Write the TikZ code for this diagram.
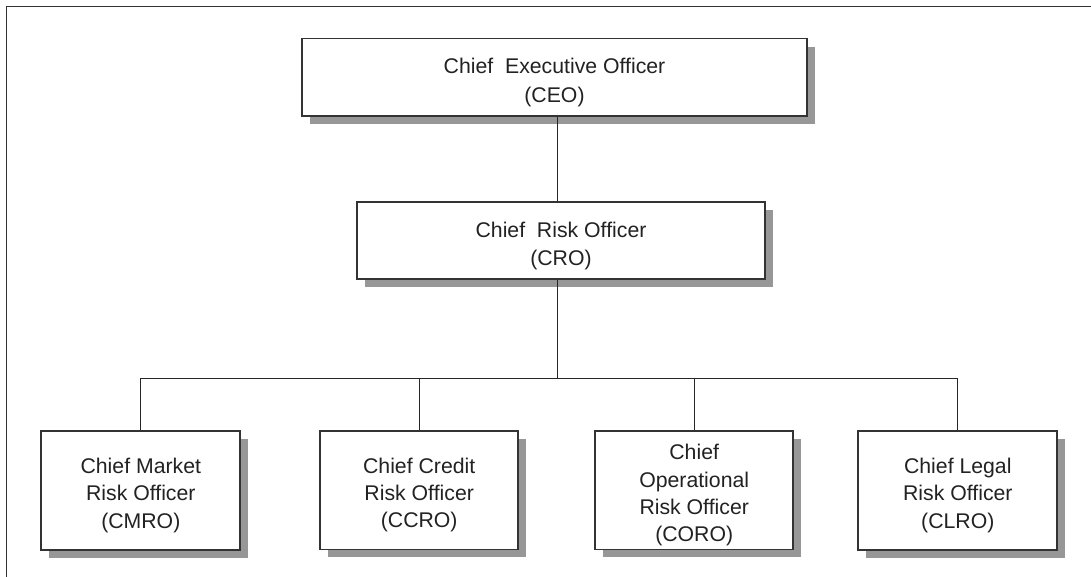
\documentclass[tikz,border=0pt]{standalone}
\usepackage{fontspec}
\setmainfont{Liberation Sans}
\usetikzlibrary{shadows}
\definecolor{inkline}{HTML}{333333}
\definecolor{shadowgray}{HTML}{979797}
\definecolor{textgray}{HTML}{222222}
% centred stack of lines, set a little below the middle of its box
\newcommand\officetext[2][28]{%
  \setbox0=\hbox{\fontsize{21.25}{#1}\selectfont
    \begin{tabular}{@{}c@{}}#2\end{tabular}}%
  \raisebox{-5pt}[\ht0][\dp0]{\copy0}}
\begin{document}
\begin{tikzpicture}[x=1pt,y=-1pt,
  officebox/.style={draw=inkline, line width=1.8pt, fill=white, inner sep=0pt,
    text=textgray,
    drop shadow={shadow xshift=8pt, shadow yshift=-8pt, fill=shadowgray, opacity=1}},
  link/.style={draw=black!85, line width=1.2pt},
  frameline/.style={draw=black!80, line width=1.6pt}]
  \useasboundingbox (0,0) rectangle (1091,577);
  % open frame: top and left edges only
  \draw[frameline] (6.5,577) -- (6.5,6.5) -- (1091,6.5);

  % executive level
  \node[officebox, minimum width=505pt, minimum height=77.5pt] (ceo) at (554.5,77.3)
    {\officetext[29]{Chief\ \ Executive Officer\\(CEO)}};
  \node[officebox, minimum width=408pt, minimum height=77.3pt] (cro) at (561,240.7)
    {\officetext[28]{Chief\ \ Risk Officer\\(CRO)}};

  % risk officers
  \node[officebox, minimum width=199pt, minimum height=119pt] (cmro) at (140.8,490.5)
    {\officetext[27.3]{Chief Market\\Risk Officer\\(CMRO)}};
  \node[officebox, minimum width=198pt, minimum height=118.5pt] (ccro) at (419.2,490.2)
    {\officetext[27.3]{Chief Credit\\Risk Officer\\(CCRO)}};
  \node[officebox, minimum width=198pt, minimum height=118.5pt] (coro) at (694.2,490.2)
    {\officetext[27.3]{Chief\\Operational\\Risk Officer\\(CORO)}};
  \node[officebox, minimum width=199pt, minimum height=119pt] (clro) at (957.8,490.5)
    {\officetext[27.3]{Chief Legal\\Risk Officer\\(CLRO)}};

  % connectors
  \coordinate (trunk) at (557.5,0);
  \coordinate (bus) at (0,378.3);
  \draw[link] (trunk |- ceo.south) -- (trunk |- cro.north);
  \draw[link] (trunk |- cro.south) -- (trunk |- bus);
  \draw[link] (cmro.north |- bus) -- (clro.north |- bus);
  \foreach \n in {cmro,ccro,coro,clro}
    \draw[link] (\n.north |- bus) -- (\n.north);
\end{tikzpicture}
\end{document}
